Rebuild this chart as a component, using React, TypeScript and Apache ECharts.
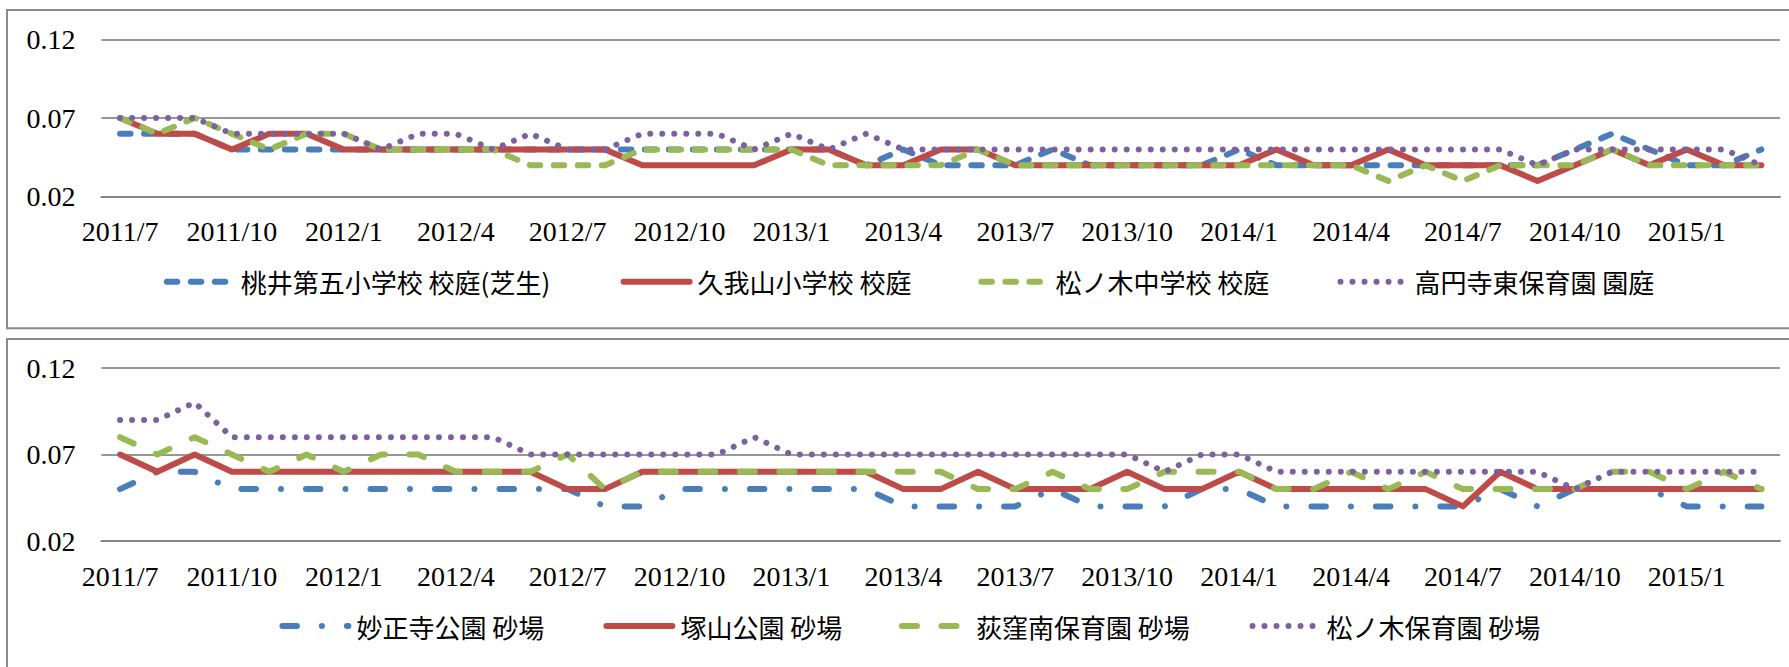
import React, { useEffect, useRef } from 'react';
import * as echarts from 'echarts';

const months: string[] = [
  '2011/7', '2011/8', '2011/9', '2011/10', '2011/11', '2011/12',
  '2012/1', '2012/2', '2012/3', '2012/4', '2012/5', '2012/6', '2012/7', '2012/8', '2012/9', '2012/10', '2012/11', '2012/12',
  '2013/1', '2013/2', '2013/3', '2013/4', '2013/5', '2013/6', '2013/7', '2013/8', '2013/9', '2013/10', '2013/11', '2013/12',
  '2014/1', '2014/2', '2014/3', '2014/4', '2014/5', '2014/6', '2014/7', '2014/8', '2014/9', '2014/10', '2014/11', '2014/12',
  '2015/1', '2015/2', '2015/3',
];

const yTickLabels: number[] = [0.02, 0.07, 0.12];

const topNames: string[] = ['桃井第五小学校 校庭(芝生)', '久我山小学校 校庭', '松ノ木中学校 校庭', '高円寺東保育園 園庭'];
const bottomNames: string[] = ['妙正寺公園 砂場', '塚山公園 砂場', '荻窪南保育園 砂場', '松ノ木保育園 砂場'];

// top panel: school yards
const momoiDaigo: number[] = [
  0.06, 0.06, 0.06, 0.05, 0.05, 0.05, 0.05, 0.05, 0.05, 0.05, 0.05, 0.05, 0.05, 0.05, 0.05,
  0.05, 0.05, 0.05, 0.05, 0.05, 0.04, 0.05, 0.04, 0.04, 0.04, 0.05, 0.04, 0.04, 0.04, 0.04,
  0.05, 0.04, 0.04, 0.04, 0.04, 0.04, 0.04, 0.04, 0.04, 0.05, 0.06, 0.05, 0.04, 0.04, 0.05,
];
const kugayama: number[] = [
  0.07, 0.06, 0.06, 0.05, 0.06, 0.06, 0.05, 0.05, 0.05, 0.05, 0.05, 0.05, 0.05, 0.05, 0.04,
  0.04, 0.04, 0.04, 0.05, 0.05, 0.04, 0.04, 0.05, 0.05, 0.04, 0.04, 0.04, 0.04, 0.04, 0.04,
  0.04, 0.05, 0.04, 0.04, 0.05, 0.04, 0.04, 0.04, 0.03, 0.04, 0.05, 0.04, 0.05, 0.04, 0.04,
];
const matsunokiJHS: number[] = [
  0.07, 0.06, 0.07, 0.06, 0.05, 0.06, 0.06, 0.05, 0.05, 0.05, 0.05, 0.04, 0.04, 0.04, 0.05,
  0.05, 0.05, 0.05, 0.05, 0.04, 0.04, 0.04, 0.04, 0.05, 0.04, 0.04, 0.04, 0.04, 0.04, 0.04,
  0.04, 0.04, 0.04, 0.04, 0.03, 0.04, 0.03, 0.04, 0.04, 0.04, 0.05, 0.04, 0.04, 0.04, 0.04,
];
const koenjiHigashi: number[] = [
  0.07, 0.07, 0.07, 0.06, 0.06, 0.06, 0.06, 0.05, 0.06, 0.06, 0.05, 0.06, 0.05, 0.05, 0.06,
  0.06, 0.06, 0.05, 0.06, 0.05, 0.06, 0.05, 0.05, 0.05, 0.05, 0.05, 0.05, 0.05, 0.05, 0.05,
  0.05, 0.05, 0.05, 0.05, 0.05, 0.05, 0.05, 0.05, 0.04, 0.05, 0.05, 0.05, 0.05, 0.05, 0.04,
];

// bottom panel: sandpits
const myoshoji: number[] = [
  0.05, 0.06, 0.06, 0.05, 0.05, 0.05, 0.05, 0.05, 0.05, 0.05, 0.05, 0.05, 0.05, 0.04, 0.04,
  0.05, 0.05, 0.05, 0.05, 0.05, 0.05, 0.04, 0.04, 0.04, 0.04, 0.05, 0.04, 0.04, 0.04, 0.05,
  0.05, 0.04, 0.04, 0.04, 0.04, 0.04, 0.04, 0.05, 0.04, 0.05, 0.05, 0.05, 0.04, 0.04, 0.04,
];
const tsukayama: number[] = [
  0.07, 0.06, 0.07, 0.06, 0.06, 0.06, 0.06, 0.06, 0.06, 0.06, 0.06, 0.06, 0.05, 0.05, 0.06,
  0.06, 0.06, 0.06, 0.06, 0.06, 0.06, 0.05, 0.05, 0.06, 0.05, 0.05, 0.05, 0.06, 0.05, 0.05,
  0.06, 0.05, 0.05, 0.05, 0.05, 0.05, 0.04, 0.06, 0.05, 0.05, 0.05, 0.05, 0.05, 0.05, 0.05,
];
const ogikuboMinami: number[] = [
  0.08, 0.07, 0.08, 0.07, 0.06, 0.07, 0.06, 0.07, 0.07, 0.06, 0.06, 0.06, 0.07, 0.05, 0.06,
  0.06, 0.06, 0.06, 0.06, 0.06, 0.06, 0.06, 0.06, 0.05, 0.05, 0.06, 0.05, 0.05, 0.06, 0.06,
  0.06, 0.05, 0.05, 0.06, 0.05, 0.06, 0.05, 0.05, 0.05, 0.05, 0.06, 0.06, 0.05, 0.06, 0.05,
];
const matsunokiNursery: number[] = [
  0.09, 0.09, 0.10, 0.08, 0.08, 0.08, 0.08, 0.08, 0.08, 0.08, 0.08, 0.07, 0.07, 0.07, 0.07,
  0.07, 0.07, 0.08, 0.07, 0.07, 0.07, 0.07, 0.07, 0.07, 0.07, 0.07, 0.07, 0.07, 0.06, 0.07,
  0.07, 0.06, 0.06, 0.06, 0.06, 0.06, 0.06, 0.06, 0.06, 0.05, 0.06, 0.06, 0.06, 0.06, 0.06,
];

const BLUE = '#4a7ebb';
const RED = '#be4b48';
const GREEN = '#98b954';
const PURPLE = '#7d60a0';

const SERIF = '"Liberation Serif", "Times New Roman", serif';
const JP = '"Noto Sans CJK JP", "Noto Sans", sans-serif';
const LW = 6;

export default function App() {
  const ref = useRef<HTMLDivElement>(null);

  useEffect(() => {
    if (!ref.current) return;
    const chart = echarts.init(ref.current, undefined, { renderer: 'svg' });

    const gridDefs = [
      { left: 101.4, right: 9, top: 39.3, height: 157.4 },
      { left: 101.4, right: 9, top: 368, height: 173 },
    ];

    const xAxes = gridDefs.map((_, g) => ({
      type: 'category',
      gridIndex: g,
      data: months,
      boundaryGap: true,
      axisLine: { show: true, lineStyle: { color: '#858585', width: 2 } },
      axisTick: { show: false },
      axisLabel: { interval: 2, margin: 21, fontFamily: SERIF, fontSize: 28, color: '#000' },
      splitLine: { show: false },
    }));

    const yAxes = gridDefs.map((_, g) => ({
      type: 'value',
      gridIndex: g,
      min: 0.02,
      max: 0.12,
      interval: 0.01,
      axisLine: { show: false },
      axisTick: { show: false },
      axisLabel: {
        margin: 26,
        fontFamily: SERIF,
        fontSize: 28,
        color: '#000',
        formatter: (v: number) => {
          const hit = yTickLabels.find((t) => Math.abs(t - v) < 1e-6);
          return hit !== undefined ? hit.toFixed(2) : '';
        },
      },
      splitLine: {
        show: true,
        lineStyle: {
          color: ['#979797', 'rgba(0,0,0,0)', 'rgba(0,0,0,0)', 'rgba(0,0,0,0)', 'rgba(0,0,0,0)'],
          width: 2,
        },
      },
    }));

    const mk = (name: string, g: number, data: number[], color: string, type: any) => ({
      type: 'line',
      name,
      xAxisIndex: g,
      yAxisIndex: g,
      data,
      symbol: 'none',
      silent: true,
      lineStyle: { color, width: LW, type, cap: 'round', join: 'round' },
      itemStyle: { color },
    });

    const dash = [10.5, 13.5];
    const dot = [0.01, 12];
    const longDashDot = [14.5, 25, 0.01, 25];
    const longDash = [15, 24.5];

    const series = [
      mk(topNames[0], 0, momoiDaigo, BLUE, dash),
      mk(topNames[1], 0, kugayama, RED, 'solid'),
      mk(topNames[2], 0, matsunokiJHS, GREEN, dash),
      mk(topNames[3], 0, koenjiHigashi, PURPLE, dot),
      mk(bottomNames[0], 1, myoshoji, BLUE, longDashDot),
      mk(bottomNames[1], 1, tsukayama, RED, 'solid'),
      mk(bottomNames[2], 1, ogikuboMinami, GREEN, longDash),
      mk(bottomNames[3], 1, matsunokiNursery, PURPLE, dot),
    ];

    const legendPos = [
      { name: topNames[0], left: 163.8, top: 268.75 },
      { name: topNames[1], left: 620.6, top: 268.75 },
      { name: topNames[2], left: 978.4, top: 268.75 },
      { name: topNames[3], left: 1337.5, top: 268.75 },
      { name: bottomNames[0], left: 279.4, top: 613 },
      { name: bottomNames[1], left: 603.4, top: 613 },
      { name: bottomNames[2], left: 899, top: 613 },
      { name: bottomNames[3], left: 1249.5, top: 613 },
    ];

    const legends = legendPos.map((p) => ({
      data: [p.name],
      left: p.left,
      top: p.top,
      padding: 0,
      itemWidth: 66,
      itemHeight: 14,
      itemGap: 0,
      selectedMode: false,
      lineStyle: { width: LW },
      itemStyle: { color: 'rgba(0,0,0,0)', borderColor: 'rgba(0,0,0,0)', borderWidth: 0, opacity: 0 },
      textStyle: { fontFamily: JP, fontSize: 26, color: '#000', padding: [0, 0, 0, 3] },
    }));

    chart.setOption({
      animation: false,
      backgroundColor: '#ffffff',
      grid: gridDefs,
      xAxis: xAxes,
      yAxis: yAxes,
      legend: legends,
      series,
      graphic: [
        {
          type: 'rect',
          silent: true,
          shape: { x: 7, y: 10, width: 1800, height: 318.3 },
          style: { fill: 'none', stroke: '#8a8a8a', lineWidth: 2 },
        },
        {
          type: 'rect',
          silent: true,
          shape: { x: 7, y: 339, width: 1800, height: 400 },
          style: { fill: 'none', stroke: '#8a8a8a', lineWidth: 2 },
        },
      ],
    });

    return () => {
      chart.dispose();
    };
  }, []);

  return (
    <div
      ref={ref}
      style={{ position: 'absolute', left: 0, top: 0, width: '1789px', height: '667px', background: '#fff' }}
    />
  );
}
